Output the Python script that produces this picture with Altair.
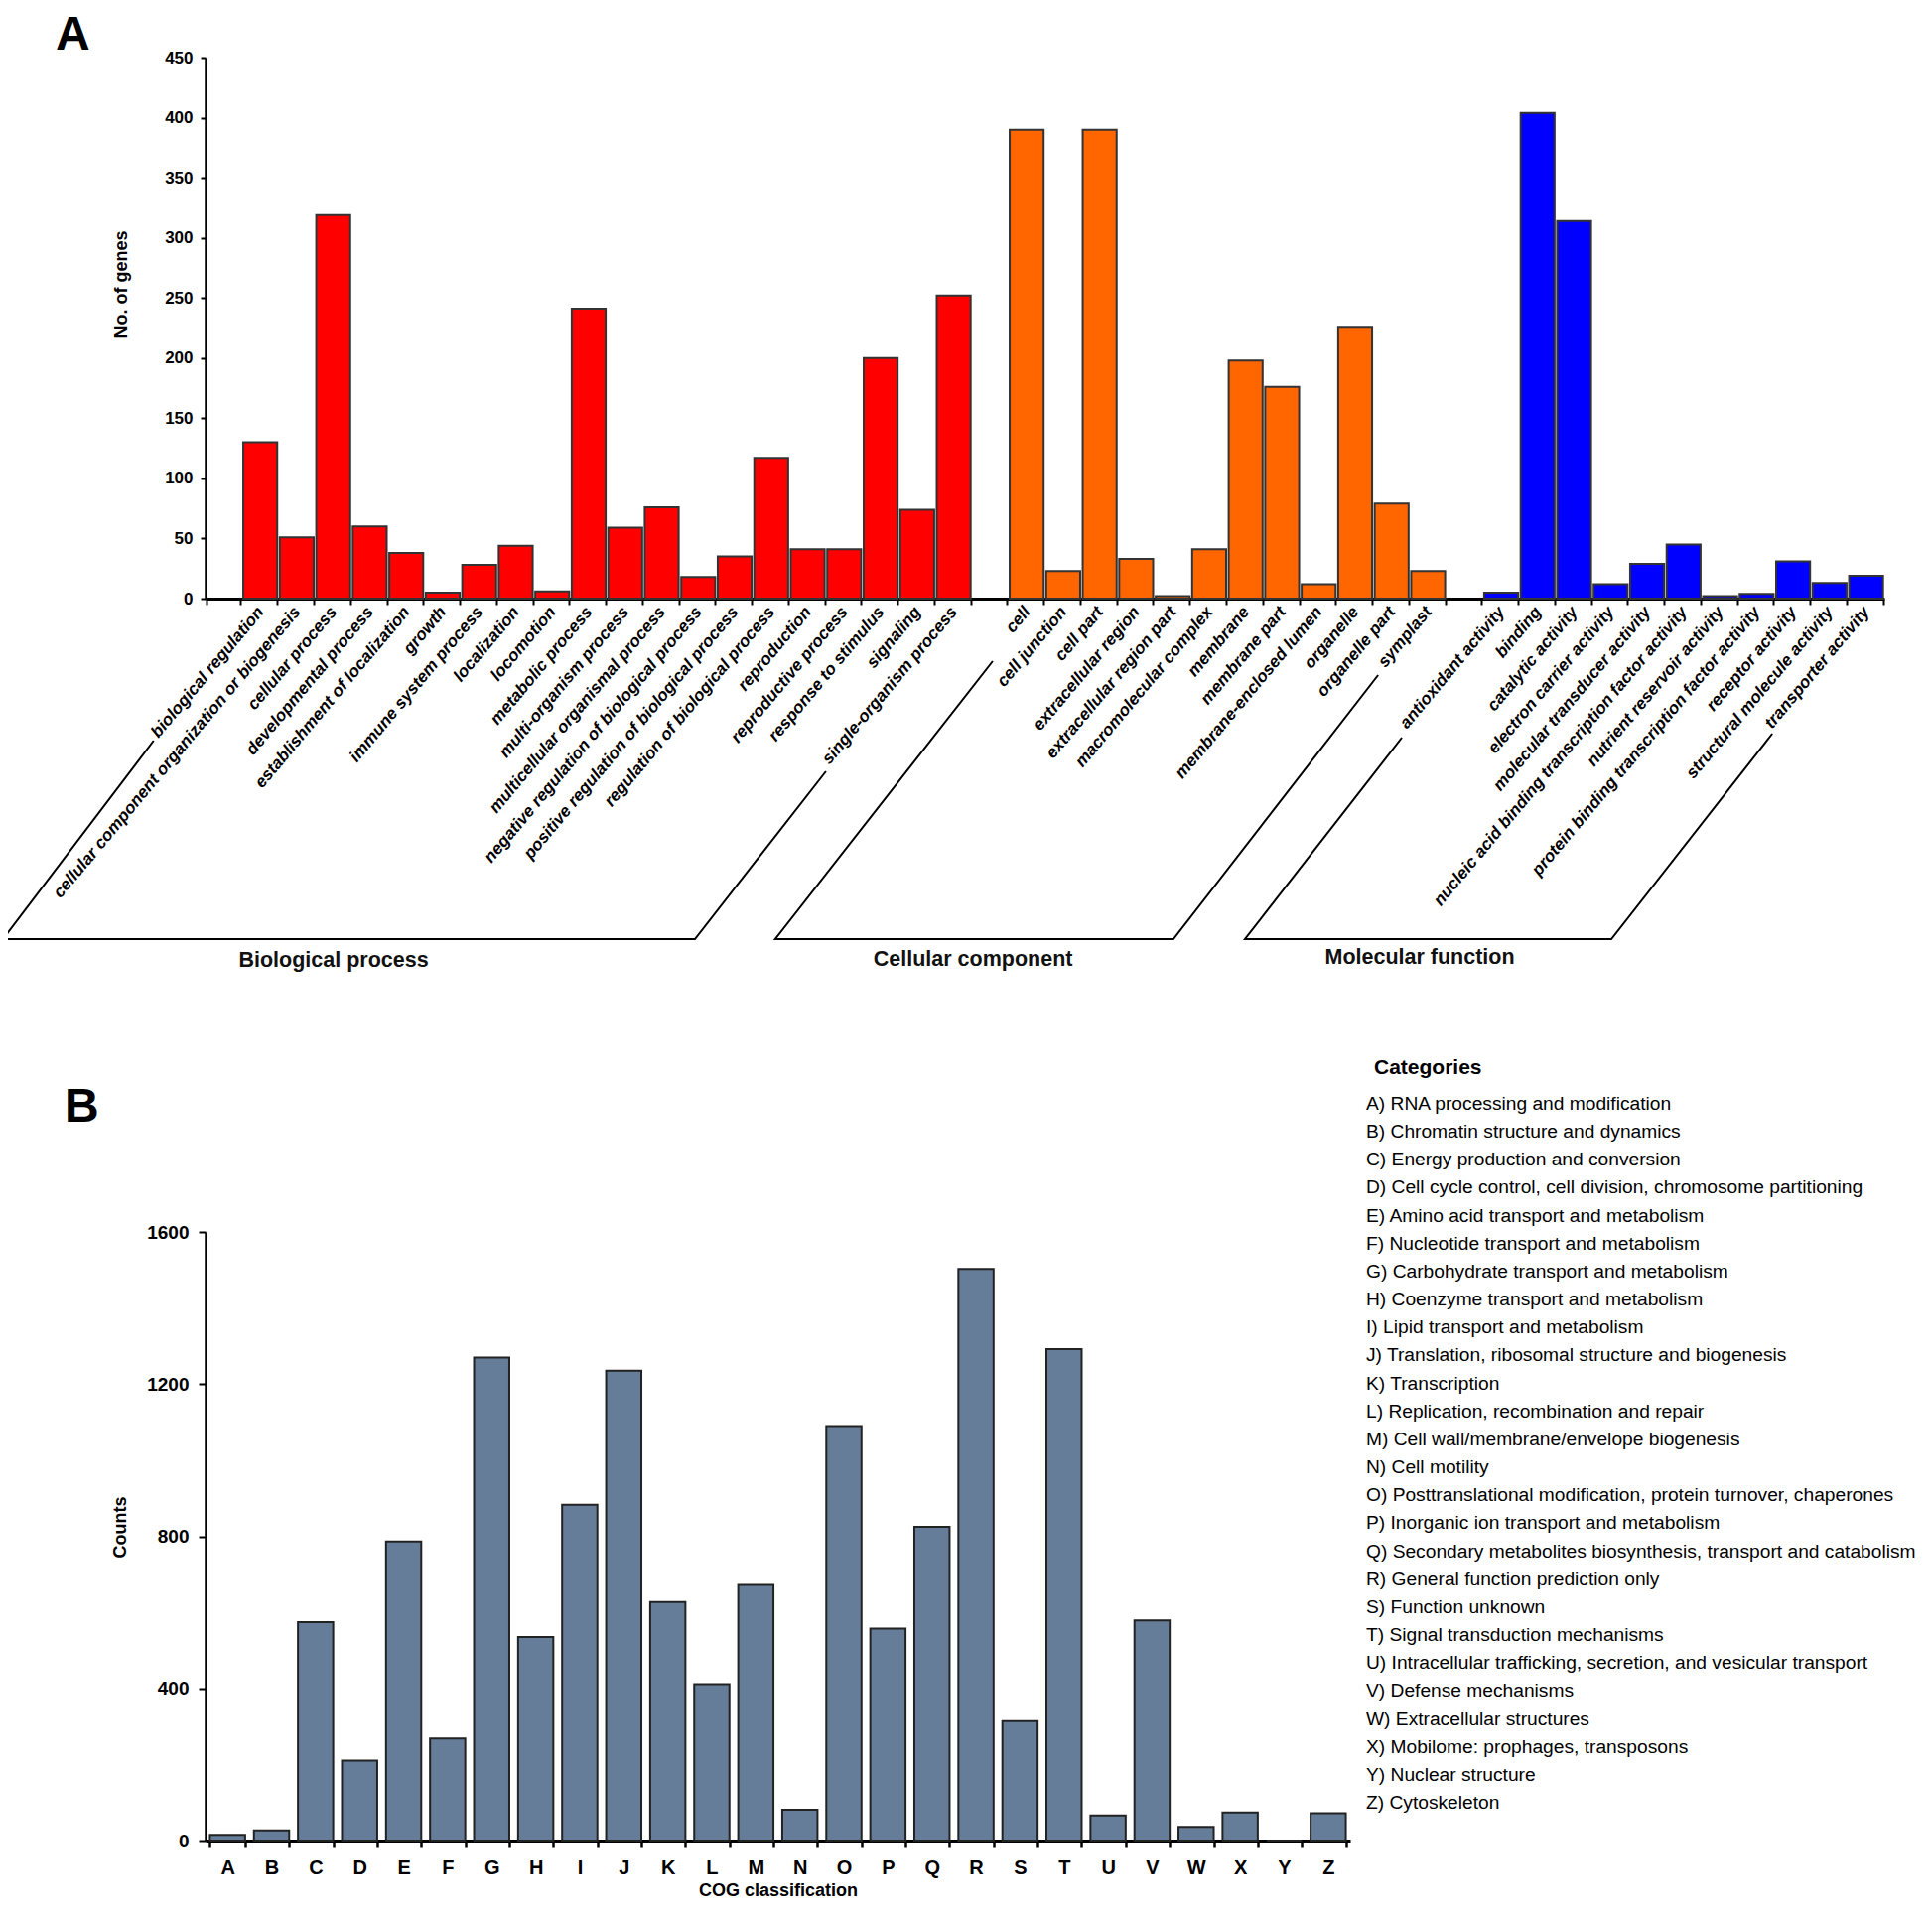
import altair as alt
import pandas as pd

FONT = "Liberation Sans"

# ---------------- Panel A: GO classification ----------------
bp_terms = [
    "biological regulation", "cellular component organization or biogenesis",
    "cellular process", "developmental process", "establishment of localization",
    "growth", "immune system process", "localization", "locomotion",
    "metabolic process", "multi-organism process", "multicellular organismal process",
    "negative regulation of biological process", "positive regulation of biological process",
    "regulation of biological process", "reproduction", "reproductive process",
    "response to stimulus", "signaling", "single-organism process",
]
bp_values = [130, 51, 319, 60, 38, 5, 28, 44, 6, 241, 59, 76, 18, 35, 117, 41, 41, 200, 74, 252]

cc_terms = [
    "cell", "cell junction", "cell part", "extracellular region",
    "extracellular region part", "macromolecular complex", "membrane",
    "membrane part", "membrane-enclosed lumen", "organelle", "organelle part", "symplast",
]
cc_values = [390, 23, 390, 33, 2, 41, 198, 176, 12, 226, 79, 23]

mf_terms = [
    "antioxidant activity", "binding", "catalytic activity", "electron carrier activity",
    "molecular transducer activity", "nucleic acid binding transcription factor activity",
    "nutrient reservoir activity", "protein binding transcription factor activity",
    "receptor activity", "structural molecule activity", "transporter activity",
]
mf_values = [5, 404, 314, 12, 29, 45, 2, 4, 31, 13, 19]

ontologies = ["Biological process", "Cellular component", "Molecular function"]
ontology_colors = ["#FF0000", "#FF6600", "#0000FF"]
a_ticks = [0, 50, 100, 150, 200, 250, 300, 350, 400, 450]

# bracket outlines under the label area (slot units along x, depth below the axis)
br_group = ["BP"] * 4 + ["CC"] * 4 + ["MF"] * 4
br_order = [0, 1, 2, 3] * 3
br_slot = [-1.42, -5.55, 13.41, 17.0, 21.57, 15.61, 26.52, 32.13, 32.78, 28.48, 38.52, 42.93]
br_depth = [143, 343, 343, 174, 63, 343, 343, 77, 140, 343, 343, 136]

gt_slot = [3.51, 21.03, 33.27]
gt_depth = [365, 364, 362]

# ---------------- Panel B: COG classification ----------------
cog_letters = list("ABCDEFGHIJKLMNOPQRSTUVWXYZ")
cog_counts = [15, 27, 574, 210, 786, 268, 1270, 535, 883, 1235, 627, 411, 672,
              81, 1090, 557, 825, 1503, 314, 1292, 66, 579, 36, 74, 0, 72]
cog_desc = [
    "RNA processing and modification",
    "Chromatin structure and dynamics",
    "Energy production and conversion",
    "Cell cycle control, cell division, chromosome partitioning",
    "Amino acid transport and metabolism",
    "Nucleotide transport and metabolism",
    "Carbohydrate transport and metabolism",
    "Coenzyme transport and metabolism",
    "Lipid transport and metabolism",
    "Translation, ribosomal structure and biogenesis",
    "Transcription",
    "Replication, recombination and repair",
    "Cell wall/membrane/envelope biogenesis",
    "Cell motility",
    "Posttranslational modification, protein turnover, chaperones",
    "Inorganic ion transport and metabolism",
    "Secondary metabolites biosynthesis, transport and catabolism",
    "General function prediction only",
    "Function unknown",
    "Signal transduction mechanisms",
    "Intracellular trafficking, secretion, and vesicular transport",
    "Defense mechanisms",
    "Extracellular structures",
    "Mobilome: prophages, transposons",
    "Nuclear structure",
    "Cytoskeleton",
]
b_ticks = [0, 400, 800, 1200, 1600]

# ---------------- layout constants ----------------
A_W, A_H = 1691, 545
B_W, B_H = 1153, 613
LEG_W = 550

a_domain = ["gap0"] + bp_terms + ["gap1"] + cc_terms + ["gap2"] + mf_terms
N_SLOTS = len(a_domain)

df_a = pd.DataFrame({
    "term": bp_terms + cc_terms + mf_terms,
    "genes": bp_values + cc_values + mf_values,
    "ontology": [ontologies[0]] * len(bp_terms) + [ontologies[1]] * len(cc_terms)
    + [ontologies[2]] * len(mf_terms),
})

bars_a = alt.Chart(df_a).mark_bar(stroke="#333333", strokeWidth=2).encode(
    x=alt.X("term:N", sort=None,
            scale=alt.Scale(domain=a_domain, paddingInner=0.07, paddingOuter=0.035),
            axis=alt.Axis(title=None, labelAngle=-50, labelAlign="right", labelBaseline="middle",
                          labelFont=FONT, labelFontSize=17, labelFontWeight="bold",
                          labelFontStyle="italic", labelColor="black", labelPadding=4,
                          labelLimit=600, labelOverlap=False,
                          labelExpr="indexof(datum.label, 'gap') == 0 ? '' : datum.label",
                          tickBand="extent", ticks=True, tickSize=6, tickWidth=2,
                          tickColor="black", domainColor="black", domainWidth=3)),
    y=alt.Y("genes:Q", scale=alt.Scale(domain=[0, 450], nice=False),
            axis=alt.Axis(values=a_ticks, format="d", title="No. of genes", titleFont=FONT,
                          titleFontSize=18, titleFontWeight="bold", titleColor="black",
                          titleX=-85, titleY=228, titleAlign="center", titleBaseline="middle",
                          labelFont=FONT, labelFontSize=17, labelFontWeight="bold",
                          labelColor="black", labelPadding=8, tickSize=5, tickWidth=2,
                          tickColor="black", domainColor="black", domainWidth=2.5, grid=False)),
    color=alt.Color("ontology:N", scale=alt.Scale(domain=ontologies, range=ontology_colors),
                    legend=None),
)

x_orn = alt.Scale(domain=[0, N_SLOTS], range=[0, A_W])
y_orn = alt.Scale(domain=[0, 400], range=[A_H, A_H + 400])

df_br = pd.DataFrame({"group": br_group, "order": br_order, "slot": br_slot, "depth": br_depth})
brackets = alt.Chart(df_br).mark_line(color="black", strokeWidth=2).encode(
    x=alt.X("slot:Q", scale=x_orn, axis=None),
    y=alt.Y("depth:Q", scale=y_orn, axis=None),
    detail="group:N",
    order="order:Q",
)

df_gt = pd.DataFrame({"name": ontologies, "slot": gt_slot, "depth": gt_depth})
group_titles = alt.Chart(df_gt).mark_text(
    font=FONT, fontSize=21.5, fontWeight="bold", color="#111111", baseline="middle"
).encode(
    x=alt.X("slot:Q", scale=x_orn, axis=None),
    y=alt.Y("depth:Q", scale=y_orn, axis=None),
    text="name:N",
)

chart_a = alt.layer(bars_a, brackets, group_titles).resolve_scale(
    x="independent", y="independent"
).properties(
    width=A_W, height=A_H,
    title=alt.TitleParams("A", anchor="start", frame="group", font=FONT, fontSize=48,
                          fontWeight="bold", color="black", dx=-151, offset=-11),
)

# ---------------- Panel B ----------------
df_b = pd.DataFrame({"cog": cog_letters, "count": cog_counts})
chart_b = alt.Chart(df_b).mark_bar(color="#657D99", stroke="#222222", strokeWidth=2).encode(
    x=alt.X("cog:N", sort=None, scale=alt.Scale(paddingInner=0.2, paddingOuter=0.1),
            axis=alt.Axis(title="COG classification", titleFont=FONT, titleFontSize=18,
                          titleFontWeight="bold", titleColor="black", titlePadding=4,
                          labelAngle=0, labelFont=FONT, labelFontSize=20, labelFontWeight="bold",
                          labelColor="black", labelPadding=10, tickBand="extent", tickSize=7,
                          tickWidth=2.5, tickColor="black", domainColor="black", domainWidth=3)),
    y=alt.Y("count:Q", scale=alt.Scale(domain=[0, 1600], nice=False),
            axis=alt.Axis(values=b_ticks, format="d", title="Counts", titleFont=FONT,
                          titleFontSize=18, titleFontWeight="bold", titleColor="black",
                          titleX=-86, titleY=297, titleAlign="center", titleBaseline="middle",
                          labelFont=FONT, labelFontSize=19, labelFontWeight="bold",
                          labelColor="black", labelPadding=10, tickSize=7, tickWidth=2,
                          tickColor="black", domainColor="black", domainWidth=2.5, grid=False)),
).properties(
    width=B_W, height=B_H,
    title=alt.TitleParams("B", anchor="start", frame="group", font=FONT, fontSize=48,
                          fontWeight="bold", color="black", dx=-142, offset=92),
)

# ---------------- legend (category list) ----------------
df_leg = pd.DataFrame({
    "idx": list(range(len(cog_letters))),
    "text": [f"{l}) {d}" for l, d in zip(cog_letters, cog_desc)],
})
y_leg = alt.Scale(domain=[0, 25], range=[-129, 575])
leg_entries = alt.Chart(df_leg).mark_text(
    align="left", baseline="middle", font=FONT, fontSize=19.2, color="black"
).encode(
    x=alt.value(0),
    y=alt.Y("idx:Q", scale=y_leg, axis=None),
    text="text:N",
)
leg_title = alt.Chart(pd.DataFrame({"idx": [-1.28], "text": ["Categories"]})).mark_text(
    align="left", baseline="middle", font=FONT, fontSize=21, fontWeight="bold",
    color="black", dx=8
).encode(
    x=alt.value(0),
    y=alt.Y("idx:Q", scale=y_leg, axis=None),
    text="text:N",
)
legend = alt.layer(leg_title, leg_entries).properties(width=LEG_W, height=B_H)

row2 = alt.hconcat(chart_b, legend, spacing=16, bounds="flush")

chart = alt.vconcat(chart_a, row2, spacing=638, bounds="flush").properties(
    padding={"left": -10, "top": 4, "right": 0, "bottom": 0}
).configure_view(stroke=None).configure_axis(grid=False)

chart.save("out.html", embed_options={"renderer": "svg", "actions": False})
